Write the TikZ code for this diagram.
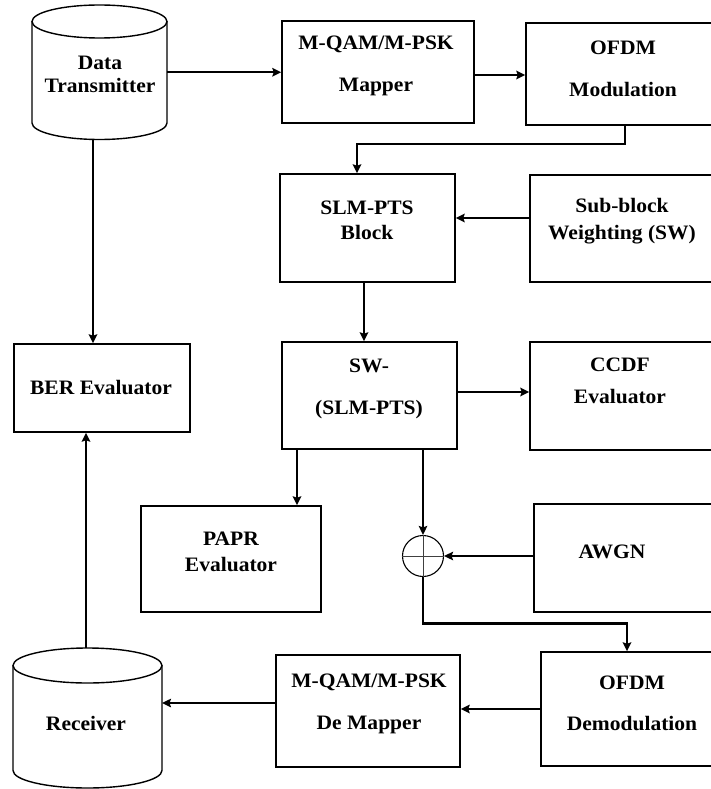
\documentclass[tikz,border=0pt]{standalone}
\usepackage{fontspec}
\setmainfont{Liberation Serif}[FakeStretch=1.05]
\usetikzlibrary{arrows.meta}
\begin{document}
\begin{tikzpicture}[x=1pt,y=-1pt,
  box/.style={draw, line width=1.4pt, rectangle, inner sep=0pt},
  txt/.style={font=\fontsize{20.5}{24}\selectfont\bfseries, inner sep=0pt, align=center},
  conn/.style={line width=2.2pt, -{Stealth[length=9pt,width=8.5pt,inset=1.5pt]}},
  cyl/.style={line width=1.4pt},
  hold/.style={inner sep=0pt, outer sep=0pt}
]
\useasboundingbox (0,0) rectangle (711,789);

% cylinders
\node[hold, minimum width=135pt, minimum height=134.5pt] (dt) at (99.5,72.25) {};
\draw[cyl] (99.5,21.5) ellipse [x radius=67.5pt, y radius=16.5pt];
\draw[cyl] (32,21.5) -- (32,123) arc[start angle=180, end angle=360, x radius=67.5pt, y radius=16.5pt] -- (167,21.5);

\node[hold, minimum width=149pt, minimum height=140pt] (rx) at (87.5,718) {};
\draw[cyl] (87.5,665.5) ellipse [x radius=74.5pt, y radius=17.5pt];
\draw[cyl] (13,665.5) -- (13,770.5) arc[start angle=180, end angle=360, x radius=74.5pt, y radius=17.5pt] -- (162,665.5);

% boxes
\node[box, minimum width=192pt, minimum height=102pt] (map) at (378,72) {};
\node[box, minimum width=190pt, minimum height=102pt] (ofdm) at (621,74) {};
\node[box, minimum width=175pt, minimum height=108pt] (slm) at (367.5,228) {};
\node[box, minimum width=186pt, minimum height=107pt] (sub) at (623,228.5) {};
\node[box, minimum width=175pt, minimum height=107pt] (sw) at (369.5,395.5) {};
\node[box, minimum width=186pt, minimum height=108pt] (ccdf) at (623,396) {};
\node[box, minimum width=176pt, minimum height=88pt] (ber) at (102,388) {};
\node[box, minimum width=180pt, minimum height=106pt] (papr) at (231,559) {};
\node[box, minimum width=182pt, minimum height=108pt] (awgn) at (625,558) {};
\node[box, minimum width=175pt, minimum height=114pt] (demod) at (628.5,709) {};
\node[box, minimum width=184pt, minimum height=112pt] (demap) at (368,711) {};

% adder
\node[circle, draw, line width=1.1pt, minimum size=41pt, inner sep=0pt] (add) at (423,556) {};
\draw[line width=0.9pt, black!75] (add.north) -- (add.south) (add.west) -- (add.east);

% texts
\node[txt] (tdt) at (100,74.5) {Data\\[-1pt]Transmitter};
\node[txt] (tmap) at (376,66) {M-QAM/M-PSK\\[18pt]Mapper};
\node[txt] (tofdm) at (623,69) {OFDM\\[18pt]Modulation};
\node[txt] (tslm) at (367,220.5) {SLM-PTS\\[1pt]Block};
\node[txt] (tsub) at (622,221.5) {Sub-block\\[3pt]Weighting (SW)};
\node[txt] (tsw) at (369,389) {SW-\\[18pt](SLM-PTS)};
\node[txt] (tccdf) at (620,381) {CCDF\\[8pt]Evaluator};
\node[txt] (tber) at (101,388) {BER Evaluator};
\node[txt] (tpapr) at (231,552) {PAPR\\[2pt]Evaluator};
\node[txt] (tawgn) at (612,552) {AWGN};
\node[txt] (tdemap) at (369,704) {M-QAM/M-PSK\\[18pt]De Mapper};
\node[txt] (tdemod) at (632,703.5) {OFDM\\[17pt]Demodulation};
\node[txt] (trx) at (86,723) {Receiver};

% connectors
\draw[conn] (dt.east) -- (dt.east -| map.west);
\draw[conn] ([yshift=-3pt]map.east) -- ([yshift=-3pt]map.east -| ofdm.west);
\draw[conn] ([xshift=4pt]ofdm.south) -- ++(0,18) -| ([xshift=-10.5pt]slm.north);
\draw[conn] ([yshift=10.5pt]sub.west) -- ([yshift=10.5pt]sub.west -| slm.east);
\draw[conn] ([xshift=-3.5pt]slm.south) -- ([xshift=-3.5pt]slm.south |- sw.north);
\draw[conn] ([yshift=3.5pt]sw.east) -- ([yshift=3.5pt]sw.east -| ccdf.west);
\draw[conn] ([xshift=-72.5pt]sw.south) -- ([xshift=-72.5pt]sw.south |- papr.north);
\draw[conn] (add.north |- sw.south) -- (add.north);
\draw[conn] (add.east -| awgn.west) -- (add.east);
\draw[conn] (add.south) -- ++(0,46.5) -| ([xshift=-1.5pt]demod.north);
\draw[conn] (demod.west) -- (demod.west -| demap.east);
\draw[conn] ([yshift=8pt]demap.west) -- ([yshift=8pt]demap.west -| rx.east);
\draw[conn] ([xshift=-1.5pt]rx.north) -- ([xshift=-1.5pt]rx.north |- ber.south);
\draw[conn] ([xshift=-6.5pt]dt.south) -- ([xshift=-6.5pt]dt.south |- ber.north);
\end{tikzpicture}
\end{document}
